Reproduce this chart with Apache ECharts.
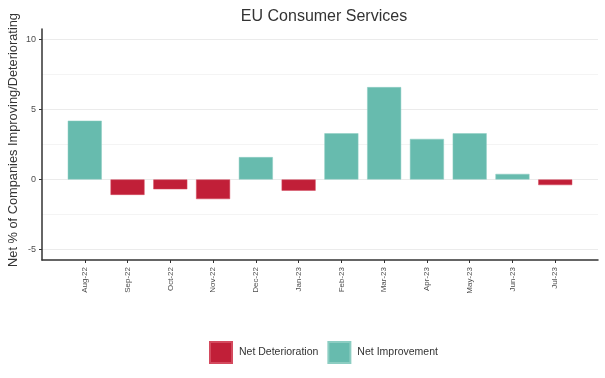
<!DOCTYPE html>
<html>
<head>
<meta charset="utf-8">
<script src="https://cdn.jsdelivr.net/npm/echarts@6/dist/echarts.min.js"></script>
<style>
html,body{margin:0;padding:0;background:#fff;}
#c{width:605px;height:378px;}
</style>
</head>
<body>
<div id="c"></div>
<script>
const categories = ['Aug-22','Sep-22','Oct-22','Nov-22','Dec-22','Jan-23','Feb-23','Mar-23','Apr-23','May-23','Jun-23','Jul-23'];
const netValues = [4.2, -1.1, -0.7, -1.4, 1.6, -0.8, 3.3, 6.6, 2.9, 3.3, 0.4, -0.4];
const yTickLabels = [-5, 0, 5, 10];
const yGridValues = [-5, -2.5, 0, 2.5, 5, 7.5, 10];
const seriesNames = ['Net Deterioration', 'Net Improvement'];

const deterioration = [];
const improvement = [];
netValues.forEach((v, i) => {
  if (v < 0) deterioration.push([i, v]);
  else improvement.push([i, v]);
});

const font = 'Liberation Sans, Arial, sans-serif';
const chart = echarts.init(document.getElementById('c'));
chart.setOption({
  animation: false,
  backgroundColor: '#fff',
  textStyle: { fontFamily: font },
  title: {
    text: 'EU Consumer Services',
    left: 319, top: 4, textAlign: 'center',
    textStyle: { fontFamily: font, fontSize: 16, fontWeight: 'normal', color: '#333' }
  },
  legend: {
    data: seriesNames,
    left: 204, top: 336,
    itemWidth: 22, itemHeight: 21, itemGap: 9,
    icon: 'rect',
    textStyle: { fontFamily: font, fontSize: 10.5, color: '#333', padding: [0,0,0,2] }
  },
  grid: { left: 42, right: 7, top: 29, bottom: 118, containLabel: false, outerBoundsMode: 'none' },
  xAxis: {
    type: 'value', min: -1, max: 12,
    splitLine: { show: false },
    axisLine: { show: true, onZero: false, lineStyle: { color: '#333', width: 1.5 } },
    axisTick: { show: true, length: 3, customValues: categories.map((c, i) => i), lineStyle: { color: '#333' } },
    axisLabel: {
      customValues: categories.map((c, i) => i),
      formatter: v => categories[v] || '',
      rotate: 90, fontSize: 8, color: '#4d4d4d', margin: 7, fontFamily: font
    }
  },
  yAxis: [{
    type: 'value', min: -5.75, max: 10.75,
    name: 'Net % of Companies Improving/Deteriorating',
    nameLocation: 'middle', nameGap: 22, nameRotate: 90, nameMoveOverlap: false,
    nameTextStyle: { fontFamily: font, fontSize: 12.8, color: '#333', padding: [0, 0, 0, 9] },
    splitLine: { show: false },
    axisLine: { show: true, onZero: false, lineStyle: { color: '#333', width: 1.5 } },
    axisTick: { show: true, length: 3, customValues: yTickLabels, lineStyle: { color: '#333' } },
    axisLabel: { customValues: yTickLabels, fontSize: 9, color: '#4d4d4d', margin: 6, fontFamily: font }
  }, {
    type: 'value', min: -5.75, max: 10.75, position: 'left',
    axisLine: { show: false },
    axisTick: { show: false, customValues: yGridValues },
    axisLabel: { show: false },
    splitLine: { show: true, lineStyle: { color: ['#ebebeb', '#f4f4f4'], width: 1 } }
  }],
  series: [{
    name: seriesNames[0], type: 'bar', stack: 'net', barWidth: 34,
    data: deterioration,
    itemStyle: { color: '#c11f38', borderColor: '#d44a5e', borderWidth: 0.5 }
  }, {
    name: seriesNames[1], type: 'bar', stack: 'net', barWidth: 34,
    data: improvement,
    itemStyle: { color: '#67bbae', borderColor: '#8ccdc2', borderWidth: 0.5 }
  }]
});
</script>
</body>
</html>
